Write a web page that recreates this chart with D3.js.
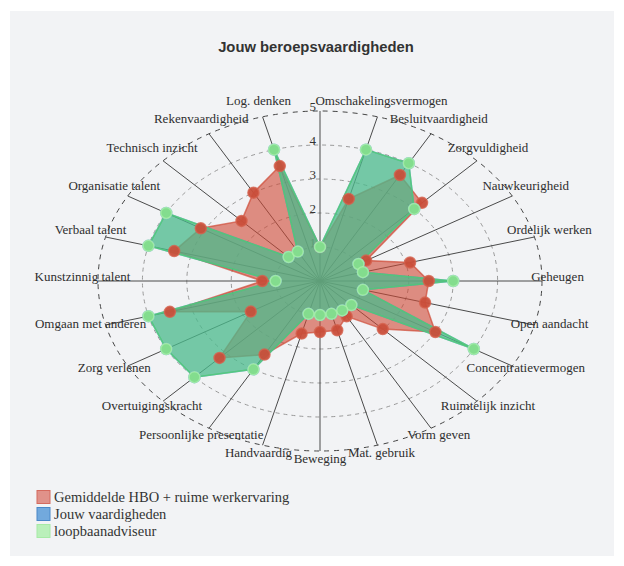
<!DOCTYPE html>
<html>
<head>
<meta charset="utf-8">
<script src="https://cdn.jsdelivr.net/npm/d3@7"></script>
<style>
  body { margin: 0; background: #fff; }
  svg { display: block; }
</style>
</head>
<body>
<svg id="chart" width="624" height="566"></svg>
<script>
// labels per as, de eerste (bovenste) as heeft geen label
let axisLabels = ["", "Omschakelingsvermogen", "Besluitvaardigheid", "Zorgvuldigheid", "Nauwkeurigheid",
    "Ordelijk werken", "Geheugen", "Open aandacht", "Concentratievermogen", "Ruimtelijk inzicht",
    "Vorm geven", "Mat. gebruik", "Beweging", "Handvaardig", "Persoonlijke presentatie",
    "Overtuigingskracht", "Zorg verlenen", "Omgaan met anderen", "Kunstzinnig talent",
    "Verbaal talent", "Organisatie talent", "Technisch inzicht", "Rekenvaardigheid", "Log. denken"];

let gemiddeldeValues = [1, 2.5, 3.6, 3.25, 1.2, 2.1, 2.45, 2.45, 3, 2, 1.2, 1.5, 1.5, 1.6,
    2.5, 3.2, 1.8, 3.5, 1.3, 3.4, 3.1, 2.5, 3, 3.5];
let jouwValues = [1, 4, 4, 3, 1, 1, 3, 1, 4, 1, 1, 1, 1, 1,
    3, 4, 4, 4, 1, 4, 4, 1, 1, 4];
let loopbaanValues = [1, 4, 4, 3, 1, 1, 3, 1, 4, 1, 1, 1, 1, 1,
    3, 4, 4, 4, 1, 4, 4, 1, 1, 4];

let seriesNames = ["Gemiddelde HBO + ruime werkervaring", "Jouw vaardigheden", "loopbaanadviseur"];
let tickLabels = [1, 2, 3, 4, 5];
let maxValue = 5;

let series = [
    {name: seriesNames[0], values: gemiddeldeValues, fill: "#cf4834", fillOpacity: 0.6, dot: "#c94e3a", dotStroke: "#d4624e",
     swatch: "#e0928a", swatchStroke: "#d46a5e"},
    {name: seriesNames[1], values: jouwValues, fill: "#3788d1", fillOpacity: 0.5, dot: "#4a90d0", dotStroke: "#6aa6dc",
     swatch: "#72a9dd", swatchStroke: "#4a88c8"},
    {name: seriesNames[2], values: loopbaanValues, fill: "#54d469", fillOpacity: 0.5, dot: "#86e08a", dotStroke: "#a9f0a9",
     swatch: "#baf0ba", swatchStroke: "#a6eaa6"}
];

let svg = d3.select("#chart");
let cx = 320, cy = 281, rx = 222, ry = 170;

// achtergrond paneel
svg.append("rect")
    .attr("x", 10).attr("y", 11)
    .attr("width", 604).attr("height", 545)
    .attr("fill", "#f2f3f5");

svg.append("text")
    .attr("x", 316).attr("y", 52)
    .attr("text-anchor", "middle")
    .style("font-family", "'Liberation Sans', Arial, sans-serif")
    .style("font-size", "14.8px")
    .style("font-weight", "bold")
    .attr("fill", "#333")
    .text("Jouw beroepsvaardigheden");

// ellips: aparte schaal voor x en y
let xScale = d3.scaleLinear().domain([-maxValue, maxValue]).range([cx - rx, cx + rx]);
let yScale = d3.scaleLinear().domain([-maxValue, maxValue]).range([cy + ry, cy - ry]);
let angle = d3.scaleLinear().domain([0, axisLabels.length]).range([0, 2 * Math.PI]);

function px(v, i){ return xScale(v * Math.sin(angle(i))); }
function py(v, i){ return yScale(v * Math.cos(angle(i))); }

let grid = svg.append("g");

// ringen
grid.selectAll(".ring")
    .data(tickLabels)
    .enter().append("ellipse")
    .attr("cx", cx).attr("cy", cy)
    .attr("rx", d => xScale(d) - xScale(0))
    .attr("ry", d => yScale(0) - yScale(d))
    .attr("fill", "none")
    .attr("stroke", d => d === maxValue ? "#444" : "#999")
    .attr("stroke-width", 1)
    .attr("stroke-dasharray", d => d === maxValue ? "5,5" : "4,4");

// assen
grid.selectAll(".axis")
    .data(axisLabels)
    .enter().append("line")
    .attr("x1", cx).attr("y1", cy)
    .attr("x2", (d, i) => px(maxValue, i))
    .attr("y2", (d, i) => py(maxValue, i))
    .attr("stroke", "#4a4a4a")
    .attr("stroke-width", 1);

// labels
grid.selectAll(".label")
    .data(axisLabels)
    .enter().append("text")
    .attr("x", (d, i) => px(maxValue * 1.07, i))
    .attr("y", (d, i) => py(maxValue * 1.07, i))
    .attr("text-anchor", "middle")
    .style("font-family", "'Liberation Serif', 'Times New Roman', serif")
    .style("font-size", "13px")
    .attr("fill", "#2e2e2e")
    .text(d => d);

// waarden langs de bovenste as
grid.selectAll(".tick")
    .data(tickLabels)
    .enter().append("text")
    .attr("x", cx - 4)
    .attr("y", d => yScale(d))
    .attr("text-anchor", "end")
    .style("font-family", "'Liberation Serif', 'Times New Roman', serif")
    .style("font-size", "13px")
    .attr("fill", "#333")
    .text(d => d);

let line = d3.line()
    .x(d => px(d.v, d.i))
    .y(d => py(d.v, d.i))
    .curve(d3.curveLinearClosed);

function pts(values){
    return values.map((v, i) => ({v: v, i: i}));
}

// vlakken eerst, daarna de punten
svg.append("g").selectAll("path")
    .data(series)
    .enter().append("path")
    .attr("d", d => line(pts(d.values)))
    .attr("fill", d => d.fill)
    .attr("fill-opacity", d => d.fillOpacity)
    .attr("stroke", d => d.fill)
    .attr("stroke-opacity", 0.7)
    .attr("stroke-width", 1.5);

series.forEach(s => {
    svg.append("g").selectAll("circle")
        .data(pts(s.values))
        .enter().append("circle")
        .attr("cx", d => px(d.v, d.i))
        .attr("cy", d => py(d.v, d.i))
        .attr("r", 5.5)
        .attr("fill", s.dot)
        .attr("fill-opacity", 0.95)
        .attr("stroke", s.dotStroke)
        .attr("stroke-opacity", 0.8)
        .attr("stroke-width", 1.5);
});

// legenda
let legend = svg.append("g").selectAll("g")
    .data(series)
    .enter().append("g")
    .attr("transform", (d, i) => `translate(37, ${497 + i * 17})`);

legend.append("rect")
    .attr("x", 0).attr("y", -6.5)
    .attr("width", 13).attr("height", 13)
    .attr("fill", d => d.swatch)
    .attr("stroke", d => d.swatchStroke)
    .attr("stroke-width", 1);

legend.append("text")
    .attr("x", 17).attr("y", 5)
    .style("font-family", "'Liberation Serif', 'Times New Roman', serif")
    .style("font-size", "14.5px")
    .attr("fill", "#333")
    .text(d => d.name);
</script>
</body>
</html>
